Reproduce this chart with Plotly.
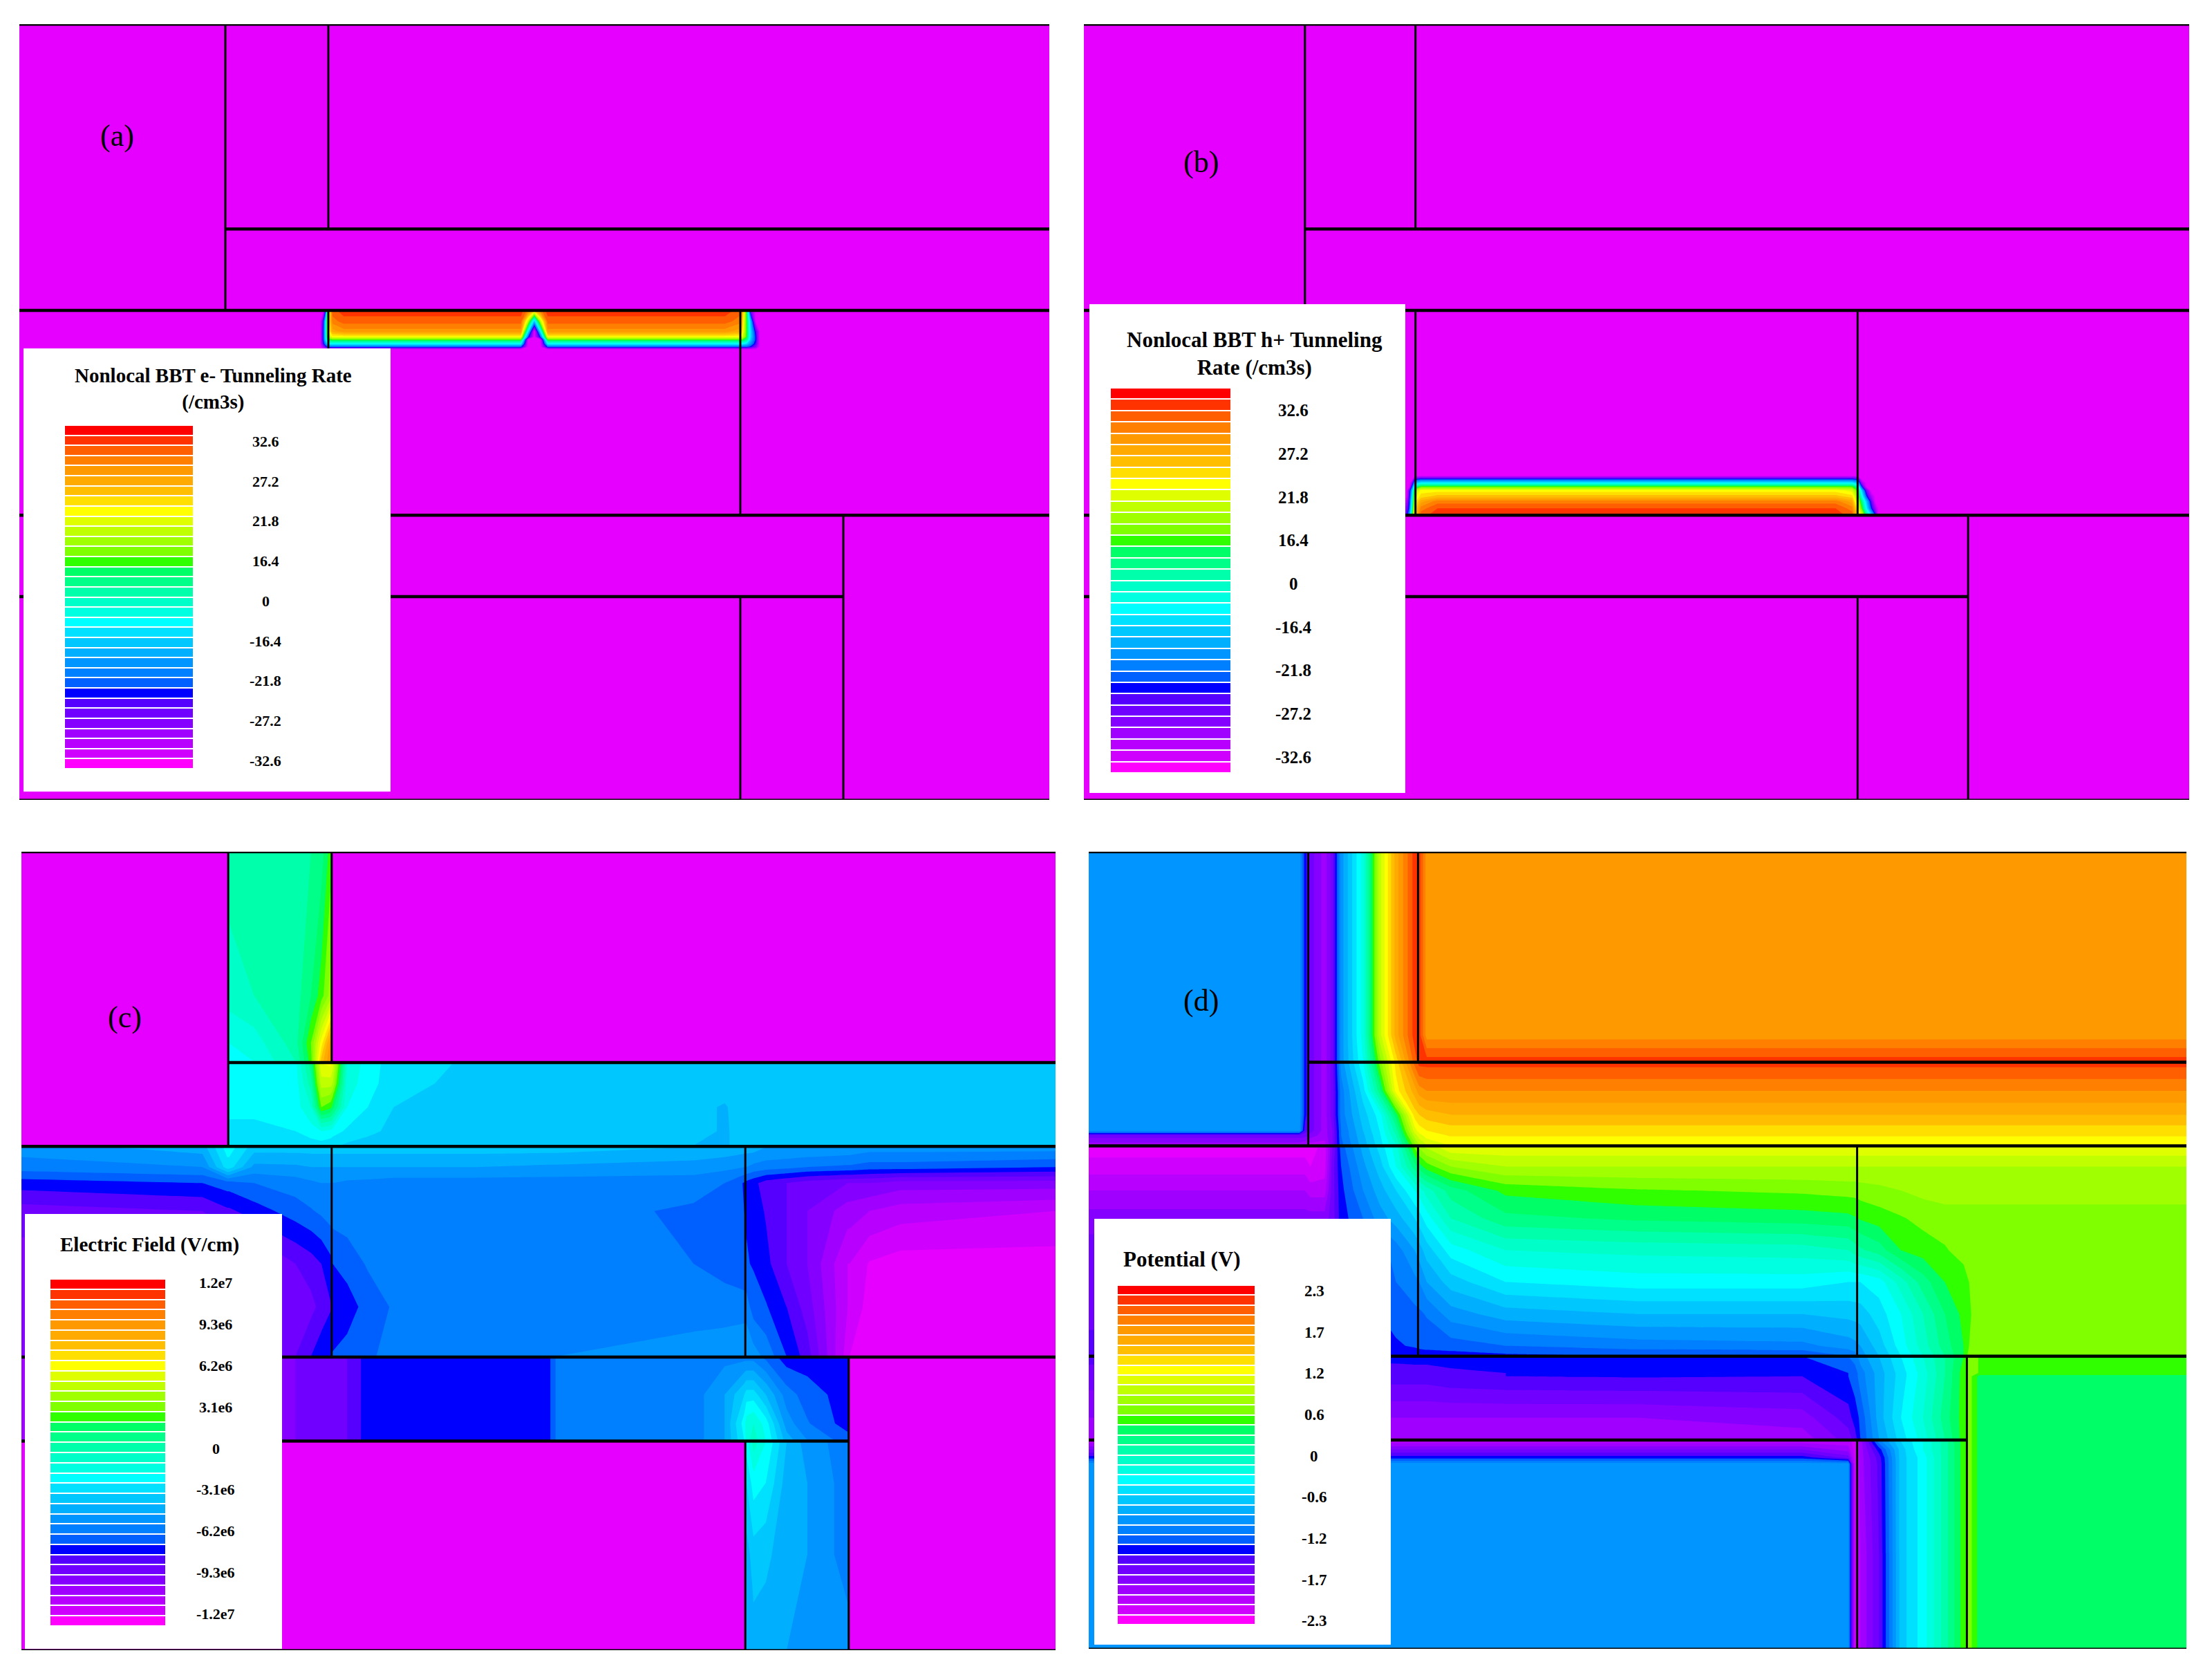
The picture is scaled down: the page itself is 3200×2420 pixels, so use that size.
"""Four TCAD cross sections: two tunneling rates, electric field and potential."""
import plotly.graph_objects as go

W, H = 3200, 2420

# contour level colours, level 0 (bottom of the legend) up to level 33 (top)
level_colors = ['#ff00ff', '#d000ff', '#b800ff', '#a000ff', '#8500ff', '#7000ff', '#5500ff', '#0000ff',
                '#0060ff', '#007fff', '#0095ff', '#00b0ff', '#00c8ff', '#00e0ff', '#00ffff', '#00ffe0',
                '#00ffc8', '#00ffaa', '#00ff88', '#00ff66', '#30ff00', '#80ff00', '#a0ff00', '#c0ff00',
                '#dfff00', '#ffff00', '#ffdf00', '#ffbf00', '#ffaa00', '#ff9900', '#ff7f00', '#ff5f00',
                '#ff3300', '#ff0000']
field_floor = '#e600ff'

# device outline in percent of the window, None breaks the line
wall_h_x = [20, 100, None, 0, 100, None, 0, 100, None, 0, 80, None, 0, 100]
wall_h_y = [26.4, 26.4, None, 36.9, 36.9, None, 63.3, 63.3, None, 73.8, 73.8, None, 0, 0]
wall_v_x = [20, 20, None, 30, 30, None, 30, 30, None, 70, 70, None, 70, 70, None, 80, 80, None, 0, 100]
wall_v_y = [0, 36.9, None, 0, 26.4, None, 36.9, 63.3, None, 36.9, 63.3, None, 73.8, 100, None, 63.3, 100,
            None, 100, 100]

# (a) e- tunneling rate
a_x = [0, 29.2, 29.5, 29.75, 29.95, 30.4, 31.5, 48.7, 49.4, 50, 50.6, 51.3, 68.5, 69.9, 70.2, 70.6, 71, 71.5, 71.9, 100]
a_y = [0, 36.85, 37, 38.3, 39.6, 40.3, 40.7, 41.2, 41.6, 41.95, 100]
a_z = [
    [0] * 20,
    [0] * 20,
    [0, 0, 0, 8, 22, 31, 32, 32, 30, 26, 30, 32, 32, 31, 28, 20, 5, 0, 0, 0],
    [0, 0, 6, 14, 24, 30, 31, 31, 23, 12, 23, 31, 31, 30, 27, 20, 12, 0, 0, 0],
    [0, 0, 7, 14, 24, 28, 29, 29, 14, 0, 14, 29, 29, 28, 26, 20, 13, 6, 0, 0],
    [0, 0, 7, 14, 22, 25, 25, 25, 8, 0, 8, 25, 25, 25, 24, 20, 13, 7, 0, 0],
    [0, 0, 7, 13, 19, 20, 20, 20, 0, 0, 0, 20, 20, 20, 20, 18, 12, 7, 0, 0],
    [0, 0, 6, 10, 14, 14, 14, 14, 0, 0, 0, 14, 14, 14, 14, 13, 10, 6, 0, 0],
    [0, 0, 3, 6, 8, 8, 8, 8, 0, 0, 0, 8, 8, 8, 8, 8, 7, 4, 0, 0],
    [0] * 20,
    [0] * 20,
]

# (b) h+ tunneling rate
b_x = [0, 29.2, 29.45, 29.7, 29.95, 30.5, 32, 68, 69.5, 70, 70.4, 70.8, 71.2, 71.6, 71.9, 100]
b_y = [0, 58.2, 58.7, 59.15, 59.6, 60.1, 60.9, 61.5, 62.4, 63.2, 63.35, 100]
b_z = [
    [0] * 16,
    [0] * 16,
    [0, 0, 0, 0, 7, 8, 8, 8, 8, 7, 0, 0, 0, 0, 0, 0],
    [0, 0, 0, 4, 12, 14, 14, 14, 14, 12, 3, 0, 0, 0, 0, 0],
    [0, 0, 0, 8, 17, 20, 20, 20, 20, 17, 7, 0, 0, 0, 0, 0],
    [0, 0, 5, 12, 22, 25, 25, 25, 24, 20, 12, 5, 0, 0, 0, 0],
    [0, 0, 6, 14, 24, 26, 27, 27, 26, 22, 15, 8, 3, 0, 0, 0],
    [0, 2, 7, 15, 25, 28, 30, 30, 28, 23, 18, 12, 6, 0, 0, 0],
    [0, 4, 8, 17, 26, 30, 31.5, 31.5, 30, 25, 20, 14, 8, 3, 0, 0],
    [0, 6, 10, 19, 27, 31, 32, 32, 31, 27, 23, 18, 13, 7, 0, 0],
    [0] * 16,
    [0] * 16,
]

# (c) electric field
c_x = [0, 17.5, 19.9, 20.1, 22.5, 26.5, 28, 29, 29.9, 30.1, 31.5, 33.5, 36, 44, 50.9, 51.7, 65, 68, 69.9, 70.1, 70.8,
       72, 74, 76, 79.9, 80.1, 82, 85, 100]
c_y = [0, 18, 24, 26.3, 26.5, 29, 32, 35, 36.8, 37, 39.5, 41.5, 45, 51.6, 57, 63.2, 63.4, 68, 71.6, 73.7, 73.9, 79,
       88, 100]
c_z = [
    [0, 0, 0, 17, 17, 17, 17.5, 18, 20] + [0] * 20,
    [0, 0, 0, 16, 16.5, 17, 18.5, 20, 22] + [0] * 20,
    [0, 0, 0, 14.5, 15, 17, 20.5, 25, 29] + [0] * 20,
    [0, 0, 0, 14, 14.5, 16.5, 20, 27, 29.5] + [0] * 20,
    [0, 0, 0, 13.5, 14, 14.2, 18, 24.5, 24.8, 24, 15.5, 14, 13, 12.3, 12, 12, 12, 12.3, 12.5, 12.5, 12.5, 12.3, 12, 12, 12, 12, 12, 12, 12],
    [0, 0, 0, 13.5, 14, 14, 17, 23, 23, 22.5, 15, 14, 12.8, 12.2, 12, 12, 12, 12, 12.2, 12.2, 12, 12, 12, 12, 12, 12, 12, 12, 12],
    [0, 0, 0, 14, 14, 14, 15.5, 20.5, 19.8, 19, 14.5, 13.5, 12.5, 12, 12, 12, 11.8, 11.4, 12, 12, 12, 12, 12, 12, 12, 12, 12, 12, 12],
    [0, 0, 0, 13, 13, 13.5, 14, 14.5, 14.2, 14, 13.3, 12.8, 12.2, 12, 12, 12, 11.8, 11.4, 11.8, 12, 12, 12, 12, 12, 12, 12, 12, 12, 12],
    [0, 0, 0, 12.5, 12.5, 13, 13, 13, 12.8, 12.7, 12.3, 12, 12, 12, 12, 12, 11.5, 11.4, 11.8, 11.8, 12, 12, 12, 12, 12, 12, 12, 12, 12],
    [10, 11, 14, 14, 12, 12, 12, 12, 12, 12, 12, 12, 12, 12, 12, 12, 11.5, 11.2, 11, 11, 11, 10.5, 10.5, 10.5, 10.3, 10.3, 10, 10, 10],
    [9, 9.5, 13, 13, 10.2, 10.3, 10.5, 10.5, 10.5, 10.5, 10.5, 10.5, 10.5, 10.5, 10.3, 10.3, 10, 9.8, 9.5, 9.5, 9.2, 9, 8.8, 8.5, 8.3, 8.3, 8, 8, 7.5],
    [7, 7.5, 8, 8, 8.5, 9, 9.3, 9.5, 9.5, 9.5, 9.3, 9.2, 9, 9, 9, 9, 9, 8.5, 7.4, 7.2, 6.8, 6, 5.5, 5, 4.5, 4.5, 4.5, 4, 4],
    [5, 5.5, 6.3, 6.3, 7, 8, 8.4, 8.7, 9, 9, 9, 8.9, 8.9, 9, 9, 9, 8.3, 8.1, 7.5, 7.4, 7, 6.4, 5.5, 4.5, 3, 3, 2.5, 2, 1.5],
    [4, 4, 4, 4, 4, 5.5, 6, 6.5, 7.2, 7.5, 8, 8.6, 8.9, 9, 9, 9, 8.5, 8.1, 7.7, 7.6, 7.4, 6.8, 5.5, 4.5, 1.5, 1.5, 0.4, 0, 0],
    [4, 4, 4, 4, 4.5, 5, 5.2, 5.8, 6.4, 6.6, 6.9, 8, 8.6, 9, 9, 9, 9, 9, 9, 9, 8, 7.6, 6.5, 5, 1.5, 1.5, 0, 0, 0],
    [4, 4, 4, 4, 4.5, 5.5, 6.5, 7.2, 7.5, 7.6, 8, 8.4, 8.7, 9.3, 9.5, 9.5, 10, 10.2, 10.5, 10.5, 10, 9.2, 7.5, 6, 1, 0.5, 0, 0, 0],
    [3, 3, 3, 3, 3.5, 4.5, 5.3, 5.3, 5.3, 5.3, 5.5, 7, 7, 7, 7, 8.6, 9, 9.2, 9.2, 9.2, 9.2, 8.3, 7, 7, 7, 0, 0, 0, 0],
    [3, 3, 3, 3, 3.5, 4.5, 5.3, 5.3, 5.3, 5.3, 5.5, 7, 7, 7, 7, 8.6, 9, 10.5, 12.5, 13, 13, 11.5, 9, 8, 7, 0, 0, 0, 0],
    [3, 3, 3, 3, 3.5, 4.5, 5.3, 5.3, 5.3, 5.3, 5.5, 7, 7, 7, 7, 8.6, 9, 10.5, 14, 15, 15.5, 14, 10, 8.6, 7, 0, 0, 0, 0],
    [3, 3, 3, 3, 3.5, 4.5, 5.3, 5.3, 5.3, 5.3, 5.5, 7, 7, 7, 7, 8.6, 9, 10.5, 13.5, 15, 16, 14.5, 11, 9.5, 8, 0, 0, 0, 0],
    [0] * 19 + [14, 16, 14.5, 11.5, 10, 9] + [0] * 4,
    [0] * 19 + [12.5, 14, 13.5, 11, 10.5, 9] + [0] * 4,
    [0] * 19 + [11, 12, 11.7, 11, 10.5, 9] + [0] * 4,
    [0] * 19 + [11, 11, 11, 10.5, 10, 10] + [0] * 4,
]

# (d) potential
d_x = [0, 19.2, 19.7, 20.2, 21.5, 22.2, 23, 25, 26.5, 28, 29.7, 30.1, 30.8, 33, 38, 50, 65, 69.2, 69.8, 70.3, 72, 74,
       76, 78, 79.7, 80.2, 81.2, 100]
d_y = [0, 23, 26.3, 30, 33, 35, 35.6, 36.8, 37.2, 39.5, 42.5, 46, 50, 54, 58, 62, 63.3, 65.4, 65.8, 71, 73.6, 74,
       75, 76, 76.8, 88, 100]
d_z = [
    [10, 10, 7, 5, 3, 5, 10, 15, 23, 28, 32, 32, 29] + [29] * 15,
    [10, 10, 7, 5, 3, 5, 10, 15, 23, 28, 32, 32, 29] + [29] * 15,
    [10, 10, 7, 5, 3, 5, 10, 14.5, 21, 26, 31, 32, 32] + [32] * 15,
    [10, 10, 7, 5, 3, 5, 9, 13, 18, 25, 28, 29, 29.5] + [29.5] * 15,
    [10, 10, 7, 5, 3, 5, 9, 12, 14, 19, 26, 26.5, 27] + [27.5] * 15,
    [10, 10, 6, 5, 3, 4.5, 8.5, 11.5, 13.5, 17, 24, 25, 25.5] + [26] * 15,
    [5, 5, 5, 4, 3, 4.5, 8.5, 11.3, 13.3, 16.5, 23, 24, 25] + [25.6] * 15,
    [3, 3, 2.5, 2, 2, 4.5, 8.2, 11, 13, 15.5, 21, 22.5, 23.5] + [24.6] * 15,
    [0, 0, 0, 0, 1, 4.5, 8, 10.8, 12.8, 15, 20.5, 21.5, 22.5] + [24.2] * 15,
    [1, 1, 1, 0.5, 1, 5, 7.5, 10.2, 12, 14.5, 18, 19, 20, 21.5] + [22.5] * 14,
    [2.5, 2.5, 2.5, 2, 2, 5, 7.2, 9.5, 11, 12.5, 14.5, 15, 16, 18, 19.8, 20.4, 20.7, 20.9, 20.9, 21, 21.2, 21.5, 21.8, 22, 22, 22, 22, 22],
    [4, 4, 4, 4, 4, 5, 7, 8.5, 10, 11, 12.5, 13, 14, 16.5, 18.2, 18.7, 19, 19.2, 19.4, 19.6, 20, 20.4, 20.8, 21, 21, 21, 21, 21],
    [5, 5, 5, 5, 5, 6, 7, 7.5, 8, 9, 10.5, 11, 12, 14, 15.5, 15.8, 16, 16.5, 17, 17.3, 18, 19.5, 20, 20.4, 20.9, 21, 21, 21],
    [5, 5, 5, 5, 5, 6, 6.5, 7.5, 8, 8.5, 9.2, 9.5, 10.5, 12, 13.5, 14, 14, 13.5, 13.5, 13.5, 14, 16, 18, 19.5, 20, 20.5, 20.9, 21],
    [5, 5, 5, 5, 5, 6, 6.5, 7, 7.5, 7.8, 8.2, 8.3, 8.6, 10, 11, 11.5, 11.5, 11.8, 11.9, 12, 13, 14.5, 16.5, 18.5, 19.8, 20.4, 20.9, 21],
    [6, 6, 6, 6, 6, 6, 6.5, 7, 7.2, 7.4, 7.6, 7.7, 7.8, 8, 8.5, 9, 9.2, 10, 10.2, 10.5, 12, 14, 16, 18, 19.5, 20.5, 21, 21],
    [6, 6, 6, 6, 6, 6, 6.5, 6.8, 6.8, 6.9, 7, 7, 7, 7, 7.2, 7.5, 7.5, 8.5, 9, 10, 11.5, 13.5, 15.5, 17.5, 19.5, 21, 20.4, 20.4],
    [5, 5, 5, 5, 5, 5, 5.5, 5.5, 6, 6, 6, 6, 6, 6.3, 6.5, 6.6, 6.5, 7.5, 8, 9, 11, 13, 15, 17.5, 20, 21, 20.4, 20.4],
    [5, 5, 5, 5, 5, 5, 5.5, 5.5, 6, 6, 6, 6, 6, 6.3, 6.5, 6.6, 6.5, 7.5, 8, 9, 11, 13, 15, 17.5, 20, 21, 19, 19],
    [3.5] * 16 + [4, 6, 7, 7.7, 11, 13.5, 15.5, 18, 20, 21, 19, 19],
    [2.5] * 16 + [3, 5, 6, 7.5, 10.5, 13, 15, 17.5, 20, 21, 19, 19],
    [2] * 16 + [2, 2, 1, 3, 9, 12.5, 14.5, 17, 20, 21, 19, 19],
    [4.5] * 16 + [4.5, 3, 1, 3, 7, 12, 14.5, 17, 20, 21, 19, 19],
    [7] * 16 + [7, 5, 1, 3, 6, 12, 14, 17, 20, 21, 19, 19],
    [10] * 16 + [10, 10, 1, 3, 5.8, 12, 14, 17, 20, 21, 19, 19],
    [10] * 16 + [10, 10, 1, 2.5, 5.5, 12, 14, 17, 20, 21, 19, 19],
    [10] * 16 + [10, 10, 1, 2.5, 5.5, 12, 14, 17, 20, 21, 19, 19],
]

rate_ticks = ['32.6', '27.2', '21.8', '16.4', '0', '-16.4', '-21.8', '-27.2', '-32.6']
field_ticks = ['1.2e7', '9.3e6', '6.2e6', '3.1e6', '0', '-3.1e6', '-6.2e6', '-9.3e6', '-1.2e7']
potential_ticks = ['2.3', '1.7', '1.2', '0.6', '0', '-0.6', '-1.2', '-1.7', '-2.3']

panels = [
    dict(name='(a)', x=a_x, y=a_y, z=a_z, rect=(28, 35, 1518, 1157), name_at=(169, 196),
         box=(34, 504, 565, 1145), bars=(94, 615, 279, 1112), title='Nonlocal BBT e- Tunneling Rate<br>(/cm3s)',
         title_at=(308, 563), title_size=29, ticks=rate_ticks, tick_x=384, tick_size=22, tick_span=(31.9, 0.3)),
    dict(name='(b)', x=b_x, y=b_y, z=b_z, rect=(1568, 35, 3167, 1157), name_at=(1737, 235),
         box=(1576, 440, 2033, 1147), bars=(1607, 561, 1780, 1118), title='Nonlocal BBT h+ Tunneling<br>Rate (/cm3s)',
         title_at=(1815, 511), title_size=31, ticks=rate_ticks, tick_x=1871, tick_size=25, tick_span=(31.5, 0.9)),
    dict(name='(c)', x=c_x, y=c_y, z=c_z, rect=(31, 1232, 1527, 2387), name_at=(180, 1472),
         box=(36, 1756, 408, 2385), bars=(73, 1850, 239, 2352), title='Electric Field (V/cm)',
         title_at=(216, 1800), title_size=29, ticks=field_ticks, tick_x=312, tick_size=22, tick_span=(33.1, 0.7)),
    dict(name='(d)', x=d_x, y=d_y, z=d_z, rect=(1575, 1232, 3163, 2385), name_at=(1737, 1447),
         box=(1583, 1763, 2012, 2379), bars=(1617, 1859, 1815, 2350), title='Potential (V)',
         title_at=(1710, 1821), title_size=31, ticks=potential_ticks, tick_x=1901, tick_size=23, tick_span=(32.9, -0.15)),
]

SERIF = 'Liberation Serif'
n_levels = len(level_colors)
legend_scale = [[i / (n_levels - 1), c] for i, c in enumerate(level_colors)]
field_scale = [[0, field_floor]] + legend_scale[1:]


def dom_x(x0, x1):
    return [x0 / W, x1 / W]


def dom_y(y0, y1):
    return [1 - y1 / H, 1 - y0 / H]


fig = go.Figure()
layout = dict(shapes=[], annotations=[])
hidden = dict(visible=False, showgrid=False, zeroline=False, fixedrange=True)

for i, p in enumerate(panels):
    # the device cross section
    sub = i + 1
    fig.add_trace(go.Contour(x=p['x'], y=p['y'], z=p['z'], xaxis=f'x{sub}', yaxis=f'y{sub}', colorscale=field_scale,
                             zmin=0, zmax=n_levels - 1, showscale=False, line=dict(width=0, smoothing=0),
                             contours=dict(coloring='fill', showlines=False, start=0.5, end=n_levels - 1.5, size=1)))
    fig.add_trace(go.Scatter(x=wall_h_x, y=wall_h_y, xaxis=f'x{sub}', yaxis=f'y{sub}', mode='lines', cliponaxis=False,
                             line=dict(color='black', width=4.5), showlegend=False))
    fig.add_trace(go.Scatter(x=wall_v_x, y=wall_v_y, xaxis=f'x{sub}', yaxis=f'y{sub}', mode='lines', cliponaxis=False,
                             line=dict(color='black', width=3), showlegend=False))
    x0, y0, x1, y1 = p['rect']
    layout[f'xaxis{sub}'] = dict(hidden, domain=dom_x(x0, x1), range=[0, 100], anchor=f'y{sub}')
    layout[f'yaxis{sub}'] = dict(hidden, domain=dom_y(y0, y1), range=[100, 0], anchor=f'x{sub}')

    # the white legend sits in its own subplot on top of the field
    leg = i + 5
    bx0, by0, bx1, by1 = p['box']
    sx0, sy0, sx1, sy1 = p['bars']
    fig.add_trace(go.Heatmap(z=[[k] for k in range(n_levels)], x=[0], y=list(range(n_levels)), xaxis=f'x{leg}',
                             yaxis=f'y{leg}', colorscale=legend_scale, zmin=0, zmax=n_levels - 1, showscale=False,
                             ygap=2))
    xs = (sx1 - sx0)
    ys = (sy1 - sy0) / n_levels
    layout[f'xaxis{leg}'] = dict(hidden, domain=dom_x(bx0, bx1), anchor=f'y{leg}',
                                 range=[-0.5 - (sx0 - bx0) / xs, 0.5 + (bx1 - sx1) / xs])
    layout[f'yaxis{leg}'] = dict(hidden, domain=dom_y(by0, by1), anchor=f'x{leg}',
                                 range=[-0.5 - (by1 - sy1) / ys, n_levels - 0.5 + (sy0 - by0) / ys])
    layout['shapes'].append(dict(type='rect', xref=f'x{leg} domain', yref=f'y{leg} domain', x0=0, x1=1, y0=0, y1=1,
                                 fillcolor='white', line=dict(width=0), layer='below'))
    layout['annotations'].append(dict(text=f"<b>{p['title']}</b>", xref='paper', yref='paper', xanchor='center',
                                      yanchor='middle', x=p['title_at'][0] / W, y=1 - p['title_at'][1] / H,
                                      showarrow=False, font=dict(family=SERIF, size=p['title_size'], color='black')))
    top, bottom = p['tick_span']
    for k, label in enumerate(p['ticks']):
        layout['annotations'].append(dict(text=f'<b>{label}</b>', xref='paper', yref=f'y{leg}', xanchor='center',
                                          yanchor='middle', x=p['tick_x'] / W,
                                          y=top + (bottom - top) * k / (len(p['ticks']) - 1), showarrow=False,
                                          font=dict(family=SERIF, size=p['tick_size'], color='black')))
    layout['annotations'].append(dict(text=p['name'], xref='paper', yref='paper', xanchor='center', yanchor='middle',
                                      x=p['name_at'][0] / W, y=1 - p['name_at'][1] / H, showarrow=False,
                                      font=dict(family=SERIF, size=44, color='black')))

fig.update_layout(width=W, height=H, margin=dict(l=0, r=0, t=0, b=0), paper_bgcolor='white', plot_bgcolor='white',
                  showlegend=False, **layout)
# the page's default body margin would push the figure off its position
fig.write_html("out.html", config=dict(displayModeBar=False), post_script="document.body.style.margin = '0';")
